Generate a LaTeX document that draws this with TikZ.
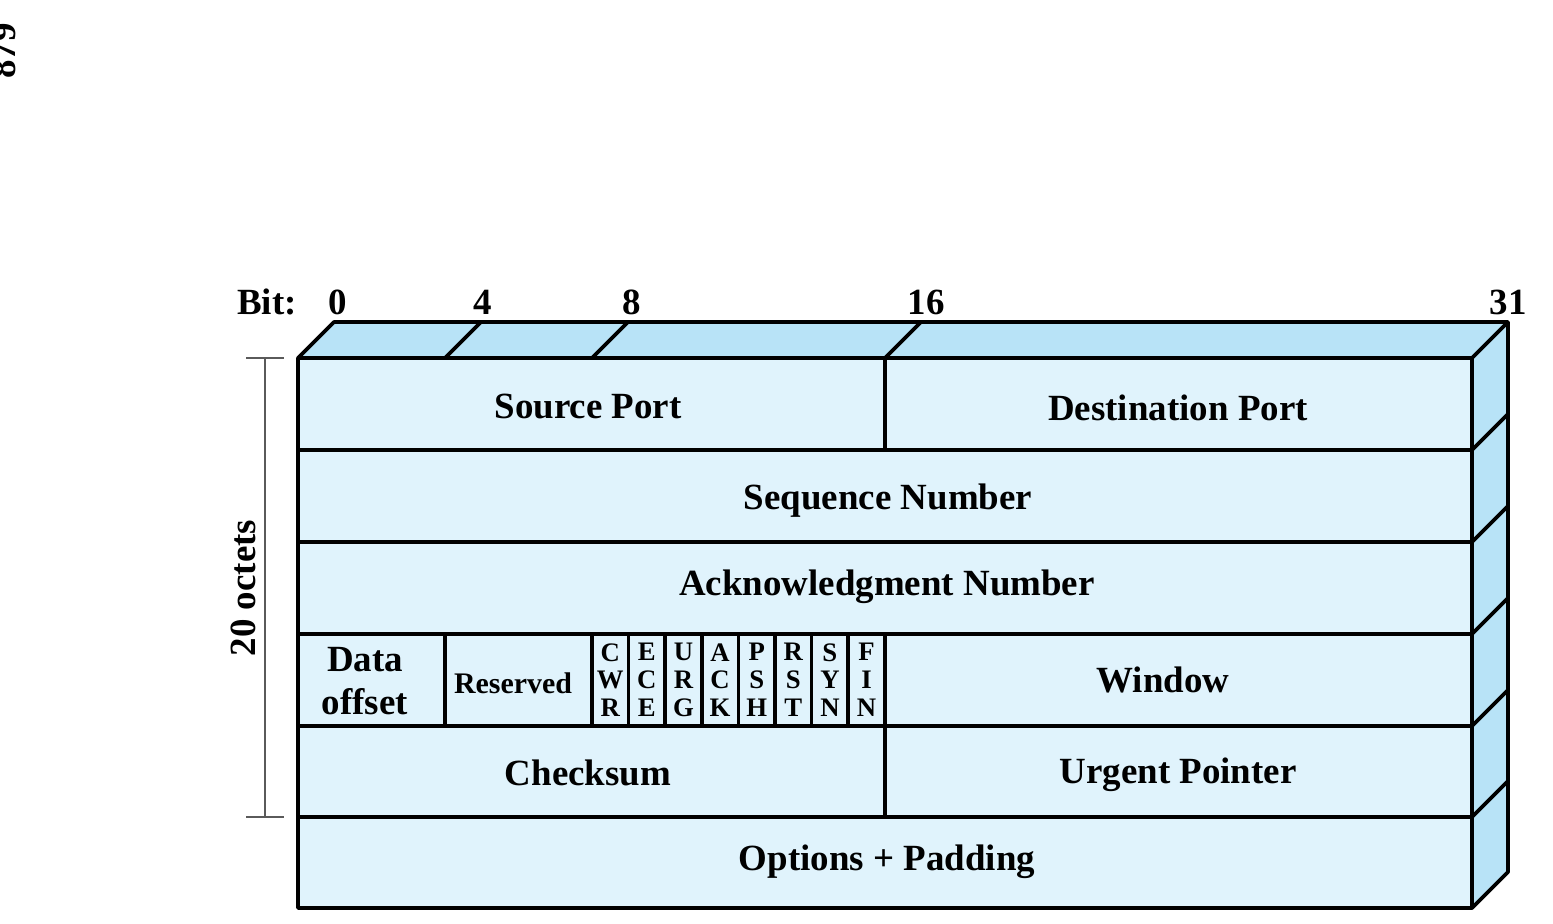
\documentclass[tikz,border=0pt]{standalone}
\usepackage{fontspec}
\setmainfont{Liberation Serif}
\definecolor{facefront}{RGB}{224,243,252}
\definecolor{faceside}{RGB}{184,227,247}
\definecolor{bracegray}{RGB}{90,90,90}

\begin{document}
\begin{tikzpicture}[x=0.01cm, y=-0.01cm, line width=1.05pt, line join=round,
  lbl/.style={font=\fontsize{10.5}{12}\selectfont\bfseries, inner sep=0pt},
  small/.style={font=\fontsize{8.5}{10}\selectfont\bfseries, inner sep=0pt},
  flag/.style={font=\fontsize{7.6}{7.9}\selectfont\bfseries, align=center, inner sep=0pt}]
  \useasboundingbox (0,0) rectangle (1553,923);
  % page number
  \node[lbl, rotate=90] (page) at (3,51) {879};
  % top face and side face
  \fill[faceside] (298,358) -- (334,322) -- (1508,322) -- (1472,358) -- cycle;
  \fill[faceside] (1472,358) -- (1508,322) -- (1508,872) -- (1472,908) -- cycle;
  % front face
  \fill[facefront] (298,358) rectangle (1472,908);
  \draw (298,358) -- (334,322) -- (1508,322) -- (1508,872) -- (1472,908) -- (298,908) -- cycle;
  \draw (298,358) -- (1472,358) -- (1472,908);
  \draw (1472,358) -- (1508,322);
  \foreach \x in {445,592,885}
    \draw (\x,358) -- ++(36,-36);
  % rows
  \foreach \y in {450,542,634,726,817}
    \draw (298,\y) -- (1472,\y) -- ++(36,-36);
  % column dividers
  \draw (885,358) -- (885,450);
  \draw (885,726) -- (885,817);
  \draw (445,634) -- (445,726);
  \foreach \i in {0,...,8}
    \draw ({592+\i*36.6},634) -- ++(0,92);
  % bit ruler
  \node[lbl] (bit) at (267,302) {Bit:};
  \node[lbl] (b0) at (338,302) {0};
  \node[lbl] (b4) at (483,302) {4};
  \node[lbl] (b8) at (632,302) {8};
  \node[lbl] (b16) at (926,302) {16};
  \node[lbl] (b31) at (1508,302) {31};
  % 20 octets
  \draw[bracegray, line width=0.6pt] (246,358) -- (284,358) (265,358) -- (265,817) (246,817) -- (284,817);
  \node[lbl, rotate=90] (octets) at (243,588) {20 octets};
  % fields
  \node[lbl] (srcport) at (588,406) {Source Port};
  \node[lbl] (dstport) at (1178,408) {Destination Port};
  \node[lbl] (seqnum) at (888,501) {Sequence Number};
  \node[lbl] (acknum) at (887,587) {Acknowledgment Number};
  \node[lbl, align=center, font=\fontsize{10.5}{12.2}\selectfont\bfseries] (offset) at (365,681) {Data\\offset};
  \node[small] (reserved) at (513,683) {Reserved};
  \foreach \f [count=\i from 0] in {{C\\W\\R},{E\\C\\E},{U\\R\\G},{A\\C\\K},{P\\S\\H},{R\\S\\T},{S\\Y\\N},{F\\I\\N}}
    \node[flag] (flag\i) at ({610.3+\i*36.6},680) {\f};
  \node[lbl] (window) at (1163,680) {Window};
  \node[lbl] (checksum) at (588,773) {Checksum};
  \node[lbl] (urgent) at (1178,775) {Urgent Pointer};
  \node[lbl] (options) at (887,862) {Options + Padding};
\end{tikzpicture}
\end{document}
